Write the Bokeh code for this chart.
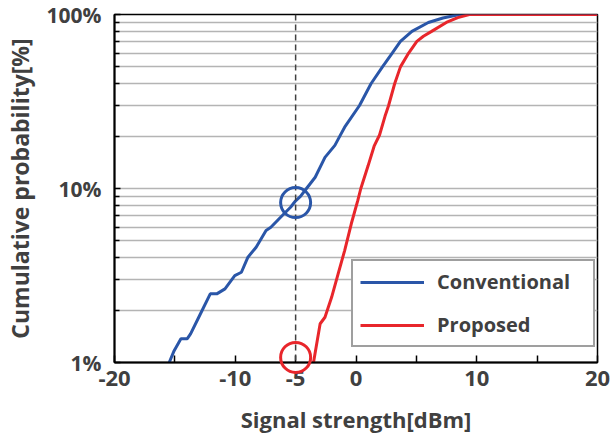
from bokeh.plotting import figure
from bokeh.models import FixedTicker, Span, Legend, LegendItem, PrintfTickFormatter, Range1d, CustomJSTickFormatter
from bokeh.embed import file_html
from bokeh.resources import INLINE

# ---- data ----
conv_x = [-15.47, -15.06, -14.5, -13.97, -13.7, -12.89, -12.07, -11.53, -10.85, -10.04,
          -9.49, -8.95, -8.27, -7.45, -7.05, -5.96, -5.42, -5.0, -4.6, -4.1, -3.38,
          -2.57, -1.75, -1.34, -0.94, 0.29, 1.24, 2.19, 3.0, 3.68, 4.63, 5.99, 7.2,
          8.57, 20.0]
conv_y = [1.0, 1.17, 1.37, 1.37, 1.46, 1.90, 2.48, 2.48, 2.65, 3.16,
          3.30, 4.03, 4.60, 5.74, 5.99, 7.16, 7.8, 8.5, 9.0, 10.0, 11.6,
          15.1, 17.7, 20.0, 22.5, 30.0, 40.0, 50.0, 60.0, 70.0, 80.0, 90.0, 95.5,
          100.0, 100.0]

prop_x = [-3.52, -2.97, -2.57, -2.02, -1.48, -0.94, -0.39, 0.15, 0.40, 1.0, 1.5,
          1.95, 2.4, 2.7, 3.2, 3.68, 4.36, 5.04, 5.58, 6.26, 7.48, 8.43, 9.38, 20.0]
prop_y = [1.0, 1.67, 1.82, 2.37, 3.23, 4.4, 6.27, 8.54, 10.0, 13.5, 17.5,
          20.3, 26.0, 30.0, 40.0, 50.0, 60.0, 70.0, 75.0, 80.0, 90.0, 96.0, 100.0, 100.0]

threshold_x = -5
mark_x = [-5]
conv_mark_y = [8.3]
prop_mark_y = [1.07]

x_ticks = [-20, -10, -5, 0, 10, 20]
x_minor_ticks = [-15, 5, 15]
y_ticks = [1, 10, 100]
y_minor_ticks = [2, 3, 4, 5, 6, 7, 8, 9, 20, 30, 40, 50, 60, 70, 80, 90]

series_names = ["Conventional", "Proposed"]
x_label = "Signal strength[dBm]"
y_label = "Cumulative probability[%]"

BLUE = "#2A56A8"
RED = "#E8262B"
TXT = "#404040"
FONT = "Open Sans"

p = figure(width=615, height=436, output_backend="svg", toolbar_location=None,
           y_axis_type="log", x_range=Range1d(-20, 20), y_range=Range1d(1, 100),
           min_border_left=106, min_border_right=18, min_border_top=14, min_border_bottom=74)
p.background_fill_color = "white"
p.border_fill_color = "white"
p.outline_line_color = "black"
p.outline_line_width = 1.5

# grid
p.xgrid.visible = False
yt = FixedTicker(ticks=y_ticks, minor_ticks=y_minor_ticks)
p.yaxis.ticker = yt
p.ygrid.ticker = yt
p.ygrid.grid_line_color = "#b4b4b4"
p.ygrid.grid_line_width = 1.5
p.ygrid.minor_grid_line_color = "#b4b4b4"
p.ygrid.minor_grid_line_width = 1.5

p.xaxis.ticker = FixedTicker(ticks=x_ticks, minor_ticks=x_minor_ticks)
p.xaxis.formatter = CustomJSTickFormatter(code="return tick.toString()")
p.yaxis.formatter = PrintfTickFormatter(format="%d%%")

for ax in (p.xaxis, p.yaxis):
    ax.axis_line_color = "black"
    ax.axis_line_width = 2
    ax.major_tick_line_color = "black"
    ax.minor_tick_line_color = "black"
    ax.major_tick_line_width = 1.5
    ax.minor_tick_line_width = 1.5
    ax.major_tick_out = 0
    ax.minor_tick_out = 0
    ax.major_label_text_font = FONT
    ax.major_label_text_font_style = "bold"
    ax.major_label_text_color = TXT
    ax.axis_label_text_font = FONT
    ax.axis_label_text_font_style = "bold"
    ax.axis_label_text_color = TXT

p.xaxis.major_tick_in = 7
p.xaxis.minor_tick_in = 7
p.yaxis.major_tick_in = 6
p.yaxis.minor_tick_in = 5
p.xaxis.major_label_text_font_size = "22px"
p.yaxis.major_label_text_font_size = "21px"
p.xaxis.major_label_standoff = 8
p.yaxis.major_label_standoff = 13
p.xaxis.axis_label_standoff = 15
p.yaxis.axis_label_standoff = 8
p.xaxis.axis_label_text_font_size = "22px"
p.yaxis.axis_label_text_font_size = "23px"
p.xaxis.axis_label = x_label
p.yaxis.axis_label = y_label

p.add_layout(Span(location=threshold_x, dimension="height", line_color="#404040",
                  line_width=1.5, line_dash="6 4"))

r_conv = p.line(conv_x, conv_y, line_color=BLUE, line_width=3)
r_prop = p.line(prop_x, prop_y, line_color=RED, line_width=3)

c1 = p.scatter(mark_x, conv_mark_y, marker="circle", size=30, fill_color=None,
               line_color=BLUE, line_width=3)
c2 = p.scatter(mark_x, prop_mark_y, marker="circle", size=30, fill_color=None,
               line_color=RED, line_width=3)
c1.level = "overlay"
c2.level = "overlay"

legend = Legend(items=[LegendItem(label=series_names[0], renderers=[r_conv]),
                       LegendItem(label=series_names[1], renderers=[r_prop])],
                location=(237, 15))
legend.border_line_color = "#404040"
legend.border_line_width = 2
legend.background_fill_color = "white"
legend.background_fill_alpha = 1
legend.label_text_font = FONT
legend.label_text_font_style = "bold"
legend.label_text_font_size = "20px"
legend.label_text_color = TXT
legend.glyph_width = 64
legend.label_standoff = 13
legend.label_width = 149
legend.padding = 7
legend.spacing = 16
legend.margin = 0
p.add_layout(legend)

open("out.html", "w").write(file_html(p, INLINE))
